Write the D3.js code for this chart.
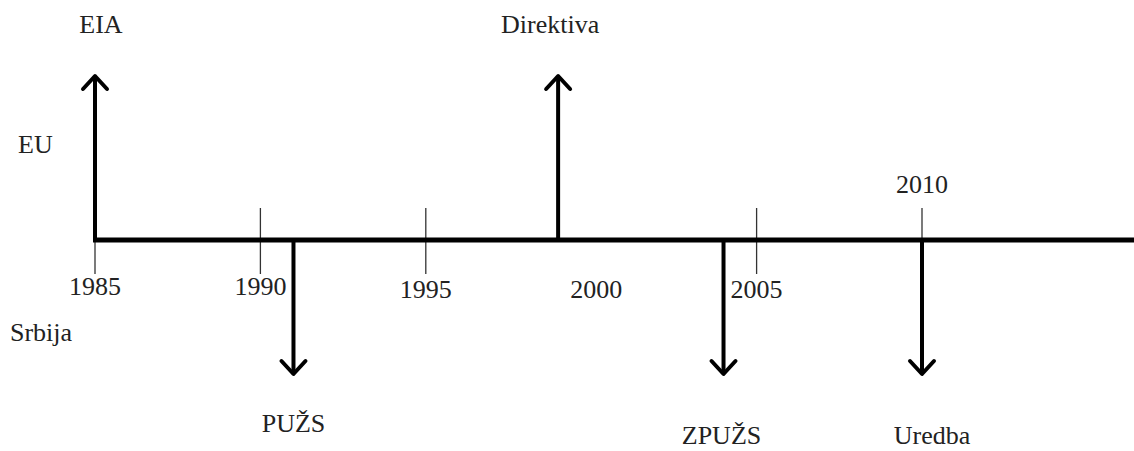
<!DOCTYPE html>
<html>
<head>
<meta charset="utf-8">
<script src="https://cdn.jsdelivr.net/npm/d3@7"></script>
<style>
  body { margin: 0; background: #fff; }
  text { font-family: "Liberation Serif", "Times New Roman", serif; fill: #222; }
</style>
</head>
<body>
<svg></svg>
<script>
// events on the timeline: up = EU, down = Srbija
let eventYears = [1985, 1999, 1991, 2004, 2010];
let eventLabels = ["EIA", "Direktiva", "PUŽS", "ZPUŽS", "Uredba"];
let eventSides = ["EU", "EU", "Srbija", "Srbija", "Srbija"];

let tickYears = [1985, 1990, 1995, 2005, 2010]; // 2000 has no tick mark
let labelYears = [1985, 1990, 1995, 2000, 2005, 2010];
let sideLabels = ["EU", "Srbija"];

let width = 1134;
let height = 451;
let axisY = 240;
let fontSize = 26;

let svg = d3.select("svg").attr("width", width).attr("height", height);

// year -> x position
let xScale = d3.scaleLinear().domain([1985, 2010]).range([95, 922]);
// side -> arrow end
let yScale = d3.scaleOrdinal().domain(sideLabels).range([76, 374]);
let sideLabelY = d3.scaleOrdinal().domain(sideLabels).range([153, 341]);

// labels in the original are not exactly centred on their arrows
let labelShift = { EIA: 6, Direktiva: -8, PUŽS: 0, ZPUŽS: -2, Uredba: 10 };

// small year ticks
svg.selectAll(".tick")
  .data(tickYears)
  .enter()
  .append("line")
  .attr("class", "tick")
  .attr("x1", (d) => xScale(d))
  .attr("x2", (d) => xScale(d))
  .attr("y1", (d) => (d === 1985 ? axisY : 208))
  .attr("y2", 274)
  .attr("stroke", "#333")
  .attr("stroke-width", 1.3);

// main time line
svg.append("line")
  .attr("x1", xScale(1985) - 2)
  .attr("x2", width)
  .attr("y1", axisY)
  .attr("y2", axisY)
  .attr("stroke", "#000")
  .attr("stroke-width", 5);

// year labels (2010 sits above the line)
svg.selectAll(".year")
  .data(labelYears)
  .enter()
  .append("text")
  .attr("class", "year")
  .attr("x", (d) => xScale(d) + (d === 2000 ? 5 : 0))
  .attr("y", (d) => (d === 2010 ? 193 : d < 1995 ? 295 : 298))
  .attr("text-anchor", "middle")
  .attr("font-size", fontSize)
  .text((d) => d);

// event arrows
let events = eventYears.map((y, i) => ({ year: y, label: eventLabels[i], side: eventSides[i] }));

let arrows = svg.selectAll(".event").data(events).enter().append("g").attr("class", "event");

arrows.append("line")
  .attr("x1", (d) => xScale(d.year))
  .attr("x2", (d) => xScale(d.year))
  .attr("y1", axisY)
  .attr("y2", (d) => yScale(d.side))
  .attr("stroke", "#000")
  .attr("stroke-width", 4);

arrows.append("path")
  .attr("d", (d) => {
    let x = xScale(d.year);
    let y = yScale(d.side);
    let dir = d.side === "EU" ? 1 : -1;
    return "M" + (x - 12) + "," + (y + dir * 13) + "L" + x + "," + y + "L" + (x + 12) + "," + (y + dir * 13);
  })
  .attr("fill", "none")
  .attr("stroke", "#000")
  .attr("stroke-width", 4)
  .attr("stroke-linecap", "round")
  .attr("stroke-linejoin", "round");

arrows.append("text")
  .attr("x", (d) => xScale(d.year) + labelShift[d.label])
  .attr("y", (d) => (d.side === "EU" ? 33 : d.label === "PUŽS" ? 432 : 444))
  .attr("text-anchor", "middle")
  .attr("font-size", fontSize)
  .text((d) => d.label);

// side labels
svg.selectAll(".side")
  .data(sideLabels)
  .enter()
  .append("text")
  .attr("class", "side")
  .attr("x", (d) => (d === "EU" ? 18 : 10))
  .attr("y", (d) => sideLabelY(d))
  .attr("font-size", fontSize)
  .text((d) => d);
</script>
</body>
</html>
